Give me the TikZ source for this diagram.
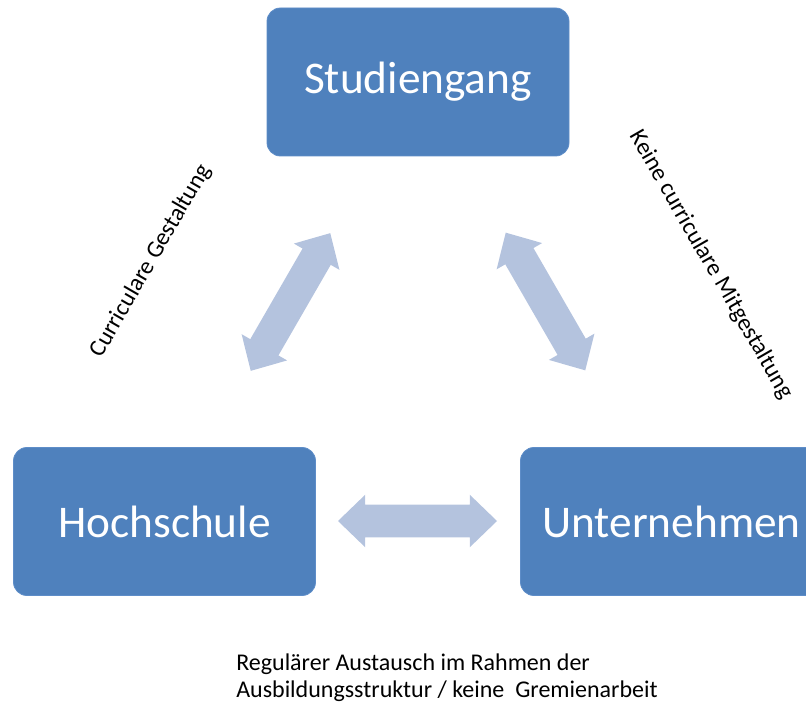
\documentclass[tikz,border=0pt]{standalone}
\usepackage{fontspec}
\setmainfont{Carlito}
\usepackage{tikz}
\usetikzlibrary{shapes.arrows}

\definecolor{boxblue}{HTML}{4F81BD}
\definecolor{boxedge}{HTML}{5E8DC8}
\definecolor{arrowblue}{HTML}{B4C3DE}

\begin{document}
\begin{tikzpicture}[x=0.75pt, y=-0.75pt,
	partner/.style={draw=boxedge, line width=0.6pt, fill=boxblue, rounded corners=10pt,
		minimum width=226.5pt, minimum height=111pt, text=white,
		font=\fontsize{34}{40}\selectfont},
	exchange/.style={double arrow, fill=arrowblue, draw=none, inner xsep=0pt, inner ysep=12pt,
		minimum height=119.25pt, double arrow head extend=7.5pt, double arrow tip angle=88},
	remark/.style={font=\fontsize{18}{20}\selectfont}]

		\useasboundingbox (0,0) rectangle (806,705);

		\node[partner] (studiengang) at (418,82) {Studiengang};
		\node[partner] (hochschule) at (164.5,521.5) {Hochschule};
		\node[partner] (unternehmen) at (671.5,521.5) {Unternehmen};

		\node[exchange, rotate=60] (links) at (290.5,302) {};
		\node[exchange, rotate=-60] (rechts) at (545.5,301.5) {};
		\node[exchange] (unten) at (417.5,521) {};

		\node[remark, rotate=60] (curricular) at (151,261) {Curriculare Gestaltung};
		\node[remark, rotate=-60] (keine) at (711,265) {Keine curriculare Mitgestaltung};
		\node[remark, align=left, anchor=base west, inner sep=0pt] (austausch) at (236,697)
			{Regulärer Austausch im Rahmen der\\Ausbildungsstruktur / keine\ \ Gremienarbeit};
	\end{tikzpicture}
\end{document}
